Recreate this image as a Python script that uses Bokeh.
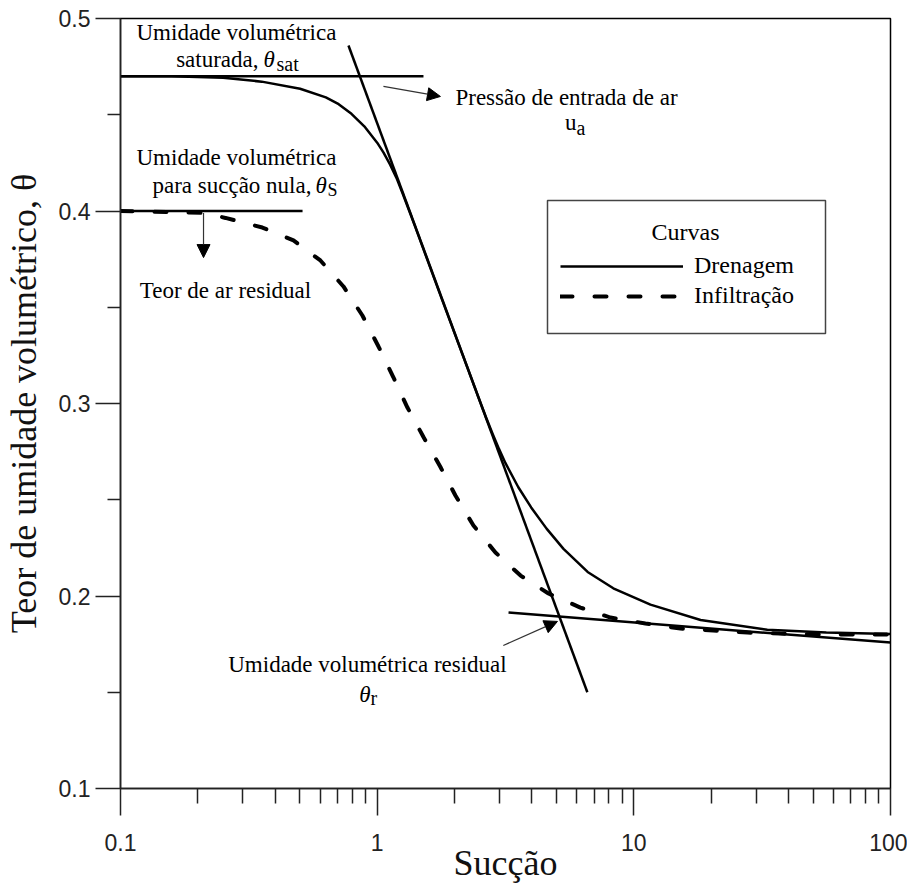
from bokeh.plotting import figure
from bokeh.models import (Range1d, FixedTicker, NumeralTickFormatter, Label, Arrow,
                          NormalHead, Legend, LegendItem, BoxAnnotation)
from bokeh.embed import file_html
from bokeh.resources import INLINE

# ---------------- data ----------------
drain_suction = [0.1, 0.158, 0.251, 0.355, 0.501, 0.631, 0.708, 0.794, 0.891, 1.0,
                 1.059, 1.122, 1.189, 1.259, 1.334, 1.413, 1.778, 2.239, 2.512, 2.661,
                 2.818, 2.985, 3.162, 3.548, 3.981, 4.571, 5.321, 6.607, 8.318, 11.61,
                 18.2, 33.11, 56.23, 100]
drain_theta = [0.470, 0.4700, 0.4692, 0.4672, 0.4635, 0.4590, 0.4555, 0.4505, 0.4440, 0.4355,
               0.4303, 0.4242, 0.4172, 0.4088, 0.4000, 0.3911, 0.3550, 0.3192, 0.3013, 0.2925,
               0.2842, 0.2763, 0.2690, 0.2565, 0.2460, 0.2350, 0.2245, 0.2125, 0.2040, 0.1955,
               0.1875, 0.1825, 0.1810, 0.1803]

infil_suction = [0.1, 0.2107, 0.2565, 0.357, 0.472, 0.601, 0.739, 0.876, 1.012, 1.158,
                 1.312, 1.515, 1.764, 2.018, 2.372, 2.89, 3.62, 4.65, 6.19, 8.11,
                 11.1, 15.2, 20.4, 27.7, 37.2, 51.9, 100]
infil_theta = [0.400, 0.399, 0.3964, 0.3914, 0.3847, 0.3743, 0.3608, 0.3457, 0.3296, 0.3135,
               0.2979, 0.2826, 0.2670, 0.2522, 0.2366, 0.2226, 0.2106, 0.2013, 0.1940, 0.1888,
               0.1857, 0.1831, 0.1821, 0.1810, 0.1805, 0.1800, 0.1800]

tangent_suction = [0.773, 6.59]
tangent_theta = [0.486, 0.150]
residual_suction = [3.25, 100]
residual_theta = [0.1914, 0.1758]
sat_suction = [0.1, 1.515]
sat_theta = [0.47, 0.47]
zero_suction = [0.1, 0.512]
zero_theta = [0.40, 0.40]

x_ticks = [0.1, 1, 10, 100]
x_minor = [0.2, 0.3, 0.4, 0.5, 0.6, 0.7, 0.8, 0.9, 2, 3, 4, 5, 6, 7, 8, 9,
           20, 30, 40, 50, 60, 70, 80, 90]
y_ticks = [0.1, 0.2, 0.3, 0.4, 0.5]
y_minor = [0.15, 0.25, 0.35, 0.45]

series_names = ["Drenagem", "Infiltração"]
x_title = "Sucção"
y_title = "Teor de umidade volumétrico, θ"

# arrows: (x_start, y_start, x_end, y_end)
arrow_air_entry = (1.058, 0.4647, 1.764, 0.4595)
arrow_residual_air = (0.2106, 0.399, 0.2106, 0.3758)
arrow_residual = (3.10, 0.1743, 5.04, 0.1868)

SERIF = "Liberation Serif"
SANS = "Liberation Sans"

p = figure(width=907, height=888, x_axis_type="log",
           x_range=Range1d(0.1, 100), y_range=Range1d(0.1, 0.5),
           output_backend="svg", toolbar_location=None,
           min_border_left=120, min_border_right=17, min_border_top=18, min_border_bottom=100)
p.xgrid.visible = False
p.ygrid.visible = False
p.outline_line_color = "black"
p.outline_line_width = 1.5
p.background_fill_color = "white"
p.border_fill_color = "white"

xa = p.xaxis[0]
xa.ticker = FixedTicker(ticks=x_ticks, minor_ticks=x_minor)
xa.formatter = NumeralTickFormatter(format="0.[0]")
xa.major_tick_in = 0
xa.major_tick_out = 27
xa.minor_tick_in = 0
xa.minor_tick_out = 15
xa.major_label_standoff = 18
xa.axis_label = x_title
xa.axis_label_standoff = -11

ya = p.yaxis[0]
ya.ticker = FixedTicker(ticks=y_ticks, minor_ticks=y_minor)
ya.formatter = NumeralTickFormatter(format="0.0")
ya.major_tick_in = 0
ya.major_tick_out = 25
ya.minor_tick_in = 0
ya.minor_tick_out = 13
ya.major_label_standoff = 5
ya.axis_label = y_title
ya.axis_label_standoff = 12

for ax in (xa, ya):
    ax.axis_line_color = "#222222"
    ax.axis_line_width = 1.5
    ax.major_tick_line_color = "#222222"
    ax.major_tick_line_width = 1.5
    ax.minor_tick_line_color = "#222222"
    ax.minor_tick_line_width = 1.5
    ax.major_label_text_font = SANS
    ax.major_label_text_font_size = "23px"
    ax.major_label_text_color = "#222222"
    ax.axis_label_text_font = SERIF
    ax.axis_label_text_font_size = "36px"
    ax.axis_label_text_font_style = "normal"
    ax.axis_label_text_color = "#111111"

# reference lines
p.line(sat_suction, sat_theta, line_color="black", line_width=2.5)
p.line(zero_suction, zero_theta, line_color="black", line_width=2.5)
p.line(tangent_suction, tangent_theta, line_color="black", line_width=2.5)
p.line(residual_suction, residual_theta, line_color="black", line_width=2.5)

# curves
r_drain = p.line(drain_suction, drain_theta, line_color="black", line_width=2.5,
                 line_join="round")
r_infil = p.line(infil_suction, infil_theta, line_color="black", line_width=4,
                 line_dash="12 22", line_cap="round")

# arrows
for (xs, ys, xe, ye) in (arrow_air_entry, arrow_residual_air, arrow_residual):
    p.add_layout(Arrow(x_start=xs, y_start=ys, x_end=xe, y_end=ye,
                       line_color="#333333", line_width=1.2,
                       end=NormalHead(size=13, fill_color="black", line_color="black",
                                      line_width=1)))


def lab(x, y, text, size=23, align="left", xo=0, yo=0, style="normal"):
    p.add_layout(Label(x=x, y=y, text=text, text_font=SERIF, text_font_size=f"{size}px",
                       text_align=align, text_baseline="alphabetic", x_offset=xo,
                       y_offset=yo + round(0.36 * size), text_font_style=style,
                       text_color="black"))


# saturated water content
lab(0.283, 0.4886, "Umidade volumétrica", align="center")
lab(0.3607, 0.4745, "saturada,", align="right", xo=-5)
lab(0.3607, 0.4745, "θ", style="italic")
lab(0.3607, 0.4745, "sat", size=20, xo=13, yo=-3)

# air entry
lab(2.018, 0.4548, "Pressão de entrada de ar")
lab(5.975, 0.4418, "u", align="right")
lab(5.975, 0.4418, "a", size=20, yo=-4)

# zero-suction water content
lab(0.283, 0.4236, "Umidade volumétrica", align="center")
lab(0.5749, 0.4091, "para sucção nula,", align="right", xo=-4)
lab(0.5749, 0.4091, "θ", style="italic")
lab(0.5749, 0.4091, "S", size=18, xo=12, yo=-3)

# residual air
lab(0.2565, 0.3545, "Teor de ar residual", align="center")

# residual water content
lab(0.9167, 0.1603, "Umidade volumétrica residual", align="center")
lab(0.9417, 0.1447, "θ", align="right", style="italic")
lab(0.9417, 0.1447, "r", size=20, yo=-3)

# legend
p.add_layout(BoxAnnotation(left=427, right=705, bottom=455, top=588,
                           left_units="screen", right_units="screen",
                           top_units="screen", bottom_units="screen",
                           fill_alpha=0, line_color="#444444", line_alpha=1.0,
                           line_width=1.5))
p.add_layout(Label(x=565, y=557, x_units="screen", y_units="screen", text="Curvas",
                   text_font=SERIF, text_font_size="24px", text_align="center",
                   text_baseline="alphabetic", text_color="black"))
legend = Legend(items=[LegendItem(label=series_names[0], renderers=[r_drain]),
                       LegendItem(label=series_names[1], renderers=[r_infil])],
                location=(440, 479), padding=0, spacing=3, margin=0,
                glyph_width=123, glyph_height=26, label_height=26, label_standoff=11,
                label_text_font=SERIF, label_text_font_size="24px",
                label_text_color="black",
                border_line_alpha=0, background_fill_alpha=0)
p.add_layout(legend)

open("out.html", "w").write(file_html(p, INLINE))
